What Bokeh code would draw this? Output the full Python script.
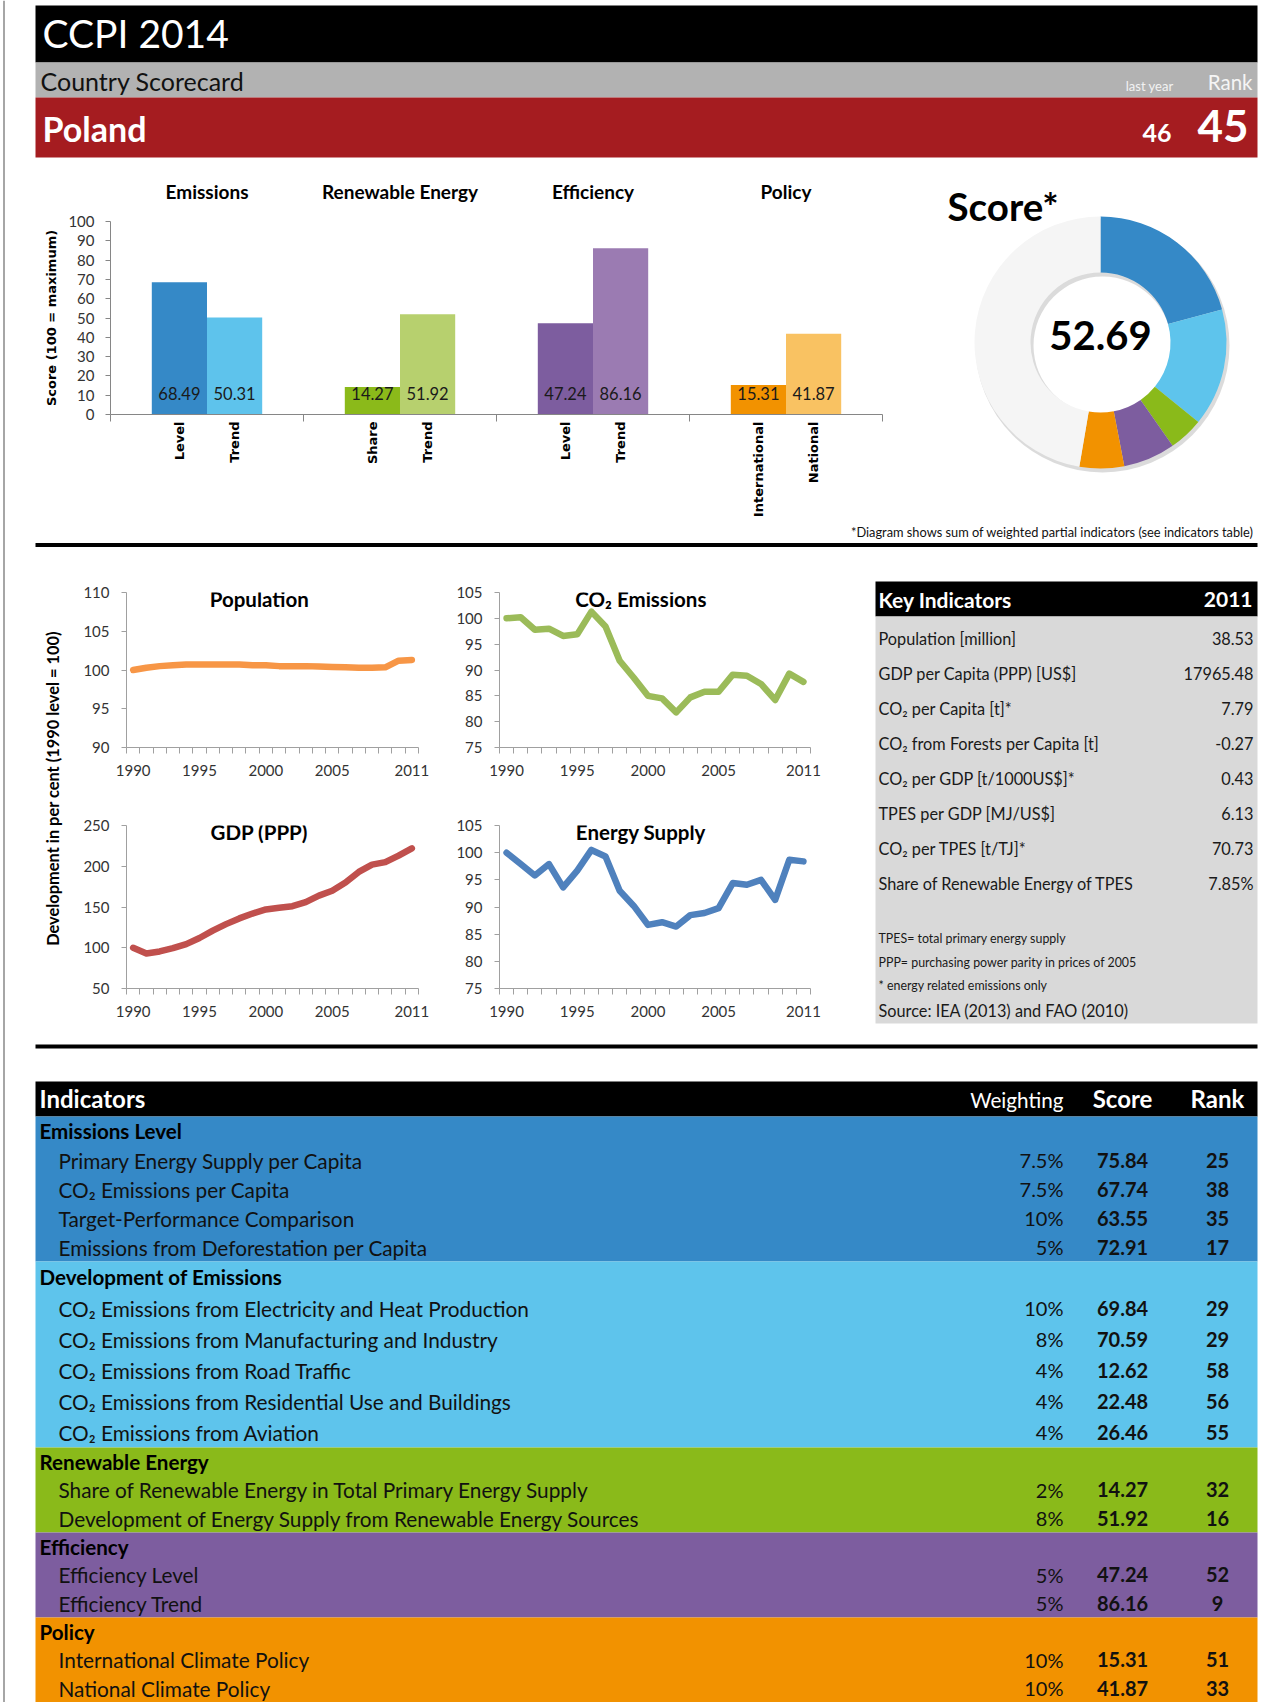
import math
from bokeh.plotting import figure
from bokeh.models import Range1d, FixedTicker, LinearAxis
from bokeh.layouts import row, column
from bokeh.core.properties import value
from bokeh.embed import file_html
from bokeh.resources import INLINE

# ---------------- data ----------------
report_title = "CCPI 2014"
subtitle = "Country Scorecard"
country = "Poland"
rank_last_year = 46
rank_now = 45

group_names = ["Emissions", "Renewable Energy", "Efficiency", "Policy"]
bar_labels = ["Level", "Trend", "Share", "Trend", "Level", "Trend", "International", "National"]
bar_values = [68.49, 50.31, 14.27, 51.92, 47.24, 86.16, 15.31, 41.87]
bar_group = [0, 0, 1, 1, 2, 2, 3, 3]
bar_member = [0, 1, 0, 1, 0, 1, 0, 1]

years = list(range(1990, 2012))
year_tick_labels = [1990, 1995, 2000, 2005, 2011]
population = [100.0, 100.3, 100.5, 100.6, 100.7, 100.7, 100.7, 100.7, 100.7, 100.6, 100.6,
              100.5, 100.5, 100.5, 100.45, 100.4, 100.35, 100.3, 100.3, 100.35, 101.2, 101.3]
gdp = [100, 93, 95.5, 99.5, 104.5, 112, 121, 129, 136, 142, 147,
       149, 151, 156, 164, 170, 180, 193, 202, 205, 213, 222]
co2 = [100.0, 100.2, 97.8, 98.0, 96.6, 96.9, 101.3, 98.4, 91.8, 88.5, 85.0,
       84.5, 81.8, 84.7, 85.8, 85.8, 89.1, 88.9, 87.3, 84.2, 89.3, 87.7]
energy = [100.0, 97.9, 95.8, 97.9, 93.6, 96.7, 100.5, 99.3, 93.0, 90.2, 86.7,
          87.2, 86.4, 88.5, 88.9, 89.8, 94.4, 94.1, 95.0, 91.3, 98.7, 98.4]

ki_year = "2011"
ki_labels = ["Population [million]", "GDP per Capita (PPP) [US$]", "CO\u2082 per Capita [t]*",
             "CO\u2082 from Forests per Capita [t]", "CO\u2082 per GDP [t/1000US$]*",
             "TPES per GDP [MJ/US$]", "CO\u2082 per TPES [t/TJ]*", "Share of Renewable Energy of TPES"]
ki_values = ["38.53", "17965.48", "7.79", "-0.27", "0.43", "6.13", "70.73", "7.85%"]
ki_notes = ["TPES= total primary energy supply", "PPP= purchasing power parity in prices of 2005",
            "* energy related emissions only"]
ki_source = "Source: IEA (2013) and FAO (2010)"

ind_group_names = ["Emissions Level", "Development of Emissions", "Renewable Energy", "Efficiency", "Policy"]
ind_names = ["Primary Energy Supply per Capita", "CO\u2082 Emissions per Capita",
             "Target-Performance Comparison", "Emissions from Deforestation per Capita",
             "CO\u2082 Emissions from Electricity and Heat Production",
             "CO\u2082 Emissions from Manufacturing and Industry", "CO\u2082 Emissions from Road Traffic",
             "CO\u2082 Emissions from Residential Use and Buildings", "CO\u2082 Emissions from Aviation",
             "Share of Renewable Energy in Total Primary Energy Supply",
             "Development of Energy Supply from Renewable Energy Sources",
             "Efficiency Level", "Efficiency Trend",
             "International Climate Policy", "National Climate Policy"]
ind_group = [0, 0, 0, 0, 1, 1, 1, 1, 1, 2, 2, 3, 3, 4, 4]
ind_weight = [7.5, 7.5, 10, 5, 10, 8, 4, 4, 4, 2, 8, 5, 5, 10, 10]
ind_score = [75.84, 67.74, 63.55, 72.91, 69.84, 70.59, 12.62, 22.48, 26.46, 14.27, 51.92, 47.24, 86.16, 15.31, 41.87]
ind_rank = [25, 38, 35, 17, 29, 29, 58, 56, 55, 32, 16, 52, 9, 51, 33]

# ---------------- style ----------------
FONT = "Lato"
bar_colors = ["#3589C7", "#5EC3EC", "#8BBA1A", "#B7D06E", "#7D5D9F", "#9B7BB2", "#F29200", "#F9C262"]
band_colors = ["#3589C7", "#5EC4EC", "#8ABA1A", "#7D5D9F", "#F29200"]
AXIS_GREY = "#A0A0A0"


def txt(p, x, y, s, size, color="black", bold=False, align="left", baseline="middle", font=FONT, angle=0.0):
    xs = x if isinstance(x, list) else [x]
    ys = y if isinstance(y, list) else [y]
    ss = s if isinstance(s, list) else [s]
    p.text(x=xs, y=ys, text=ss, text_font=value(font), text_font_size=f"{size}px",
           text_font_style="bold" if bold else "normal", text_color=color,
           text_align=align, text_baseline=baseline, angle=angle)


def deco(x0, x1, y0, y1):
    """Figure whose data space equals page pixels (y negated)."""
    p = figure(width=x1 - x0, height=y1 - y0, x_range=Range1d(x0, x1), y_range=Range1d(-y1, -y0),
               output_backend="svg", toolbar_location=None, min_border=0, frame_align=False,
               x_axis_location=None, y_axis_location=None)
    p.grid.visible = False
    p.outline_line_color = None
    p.background_fill_color = "white"
    p.border_fill_color = "white"
    return p


def band(p, x0, x1, y0, y1, color):
    p.quad(left=[x0], right=[x1], top=[-y0], bottom=[-y1], fill_color=color, line_color=None)


# ---------------- gutter ----------------
gutter = deco(0, 28, 0, 1702)
gutter.segment(x0=[3.5], y0=[0], x1=[3.5], y1=[-1702], line_color="#A6A6A6", line_width=2)

# ---------------- header ----------------
hdr = deco(28, 1273, 0, 160)
band(hdr, 35, 1257, 5, 62, "black")
band(hdr, 35, 1257, 62, 97, "#B2B2B2")
band(hdr, 35, 1257, 97, 157, "#A51C20")
txt(hdr, 42, -32.5, report_title, 39, "white")
txt(hdr, 40, -80, subtitle, 25, "#111111")
txt(hdr, 1173, -85, "last year", 13, "#F2F2F2", align="right")
txt(hdr, 1252, -81, "Rank", 20.5, "#F5F5F5", align="right")
txt(hdr, 42, -127.5, country, 34, "white", bold=True)
txt(hdr, 1171, -132, str(rank_last_year), 25, "white", bold=True, align="right")
txt(hdr, 1248, -125.5, str(rank_now), 44, "white", bold=True, align="right")

# ---------------- bar chart ----------------
bw = 0.286
bar_x = [round(g + 0.5 + (m - 0.5) * bw, 3) for g, m in zip(bar_group, bar_member)]
bp = figure(width=867, height=364, x_range=Range1d(0, 4), y_range=Range1d(0, 100),
            output_backend="svg", toolbar_location=None, frame_align=False,
            min_border_left=82, min_border_right=13, min_border_top=61, min_border_bottom=110)
bp.grid.visible = False
bp.outline_line_color = None
bp.vbar(x=bar_x, top=bar_values, width=bw, fill_color=bar_colors, line_color=None)
txt(bp, bar_x, [11] * len(bar_values), [f"{v:.2f}" for v in bar_values], 16.5, "#1A1A1A", align="center")

ya = bp.yaxis[0]
ya.ticker = FixedTicker(ticks=list(range(0, 101, 10)))
ya.axis_line_color = "#868686"
ya.major_tick_line_color = "#868686"
ya.major_tick_out = 5
ya.major_tick_in = 0
ya.minor_tick_line_color = None
ya.major_label_standoff = 11
ya.major_label_text_font = FONT
ya.major_label_text_font_size = "15px"
ya.major_label_text_color = "#333333"
ya.axis_label = "Score (100 = maximum)"
ya.axis_label_text_font = "DejaVu Sans"
ya.axis_label_text_font_style = "bold"
ya.axis_label_text_font_size = "13px"
ya.axis_label_text_color = "black"
ya.axis_label_standoff = 6

xa = bp.xaxis[0]
xa.ticker = FixedTicker(ticks=bar_x, minor_ticks=[0, 1, 2, 3, 4])
xa.major_label_overrides = {x: lab for x, lab in zip(bar_x, bar_labels)}
xa.major_label_orientation = math.pi / 2
xa.axis_line_color = "#868686"
xa.major_tick_line_color = None
xa.major_tick_out = 0
xa.major_tick_in = 0
xa.minor_tick_line_color = "#868686"
xa.minor_tick_out = 7
xa.minor_tick_in = 0
xa.major_label_standoff = 0
xa.major_label_text_font = "DejaVu Sans"
xa.major_label_text_font_style = "bold"
xa.major_label_text_font_size = "13px"
xa.major_label_text_color = "black"

top_axis = LinearAxis(ticker=FixedTicker(ticks=[g + 0.5 for g in range(len(group_names))]),
                      major_label_overrides={g + 0.5: n for g, n in enumerate(group_names)},
                      axis_line_color=None, major_tick_line_color=None, minor_tick_line_color=None,
                      major_tick_out=0, major_tick_in=0, major_label_standoff=19,
                      major_label_text_font=FONT, major_label_text_font_style="bold",
                      major_label_text_font_size="19px", major_label_text_color="black")
bp.add_layout(top_axis, "above")

# ---------------- donut ----------------
grp_scores = [sum(w * s / 100 for w, s, gi in zip(ind_weight, ind_score, ind_group) if gi == g)
              for g in range(len(ind_group_names))]
total_score = sum(grp_scores)
dp = deco(895, 1273, 160, 524)
cx, cy = 1100, -342
dp.annulus(x=[cx + 2], y=[cy - 3], inner_radius=69, outer_radius=127, fill_color="#BDBDBD",
           fill_alpha=0.55, line_color=None)
slices = grp_scores + [100 - total_score]
slice_colors = band_colors + ["#F5F5F5"]
starts, ends, cum = [], [], 0.0
for v in slices:
    starts.append(math.pi / 2 - 2 * math.pi * cum / 100)
    cum += v
    ends.append(math.pi / 2 - 2 * math.pi * cum / 100)
dp.annular_wedge(x=[cx] * len(slices), y=[cy] * len(slices), inner_radius=70, outer_radius=126,
                 start_angle=starts, end_angle=ends, direction="clock",
                 fill_color=slice_colors, line_color=None)
txt(dp, 947, -205, "Score*", 38.5, "black", bold=True)
txt(dp, cx, -335, f"{total_score:.2f}", 40, "black", bold=True, align="center")

# ---------------- separator A ----------------
sa = deco(28, 1273, 524, 556)
txt(sa, 1253, -531, "*Diagram shows sum of weighted partial indicators (see indicators table)", 12.8,
    "#111111", align="right")
band(sa, 35, 1257, 542.5, 546.5, "black")

# ---------------- development charts ----------------
ytitle = deco(28, 70, 556, 1040)
txt(ytitle, 52, -788, "Development in per cent (1990 level = 100)", 16.4, "black", bold=True,
    align="center", angle=math.pi / 2)


def line_chart(w, h, borders, yr, ystep, vals, color, title):
    l, r, t, b = borders
    p = figure(width=w, height=h, x_range=Range1d(years[0] - 0.5, years[-1] + 0.5), y_range=Range1d(*yr),
               output_backend="svg", toolbar_location=None, frame_align=False,
               min_border_left=l, min_border_right=r, min_border_top=t, min_border_bottom=b)
    p.grid.visible = False
    p.outline_line_color = None
    p.line(years, vals, line_color=color, line_width=6.5, line_cap="round", line_join="round")
    xa = p.xaxis[0]
    xa.ticker = FixedTicker(ticks=year_tick_labels, minor_ticks=[y - 0.5 for y in years] + [years[-1] + 0.5])
    xa.axis_line_color = AXIS_GREY
    xa.major_tick_line_color = None
    xa.major_tick_out = 6
    xa.major_tick_in = 0
    xa.minor_tick_line_color = AXIS_GREY
    xa.minor_tick_out = 6
    xa.minor_tick_in = 0
    xa.major_label_standoff = 11
    xa.major_label_text_font = FONT
    xa.major_label_text_font_size = "15px"
    xa.major_label_text_color = "#333333"
    ya = p.yaxis[0]
    ya.ticker = FixedTicker(ticks=list(range(int(yr[0]), int(yr[1]) + 1, ystep)))
    ya.axis_line_color = AXIS_GREY
    ya.major_tick_line_color = AXIS_GREY
    ya.major_tick_out = 5
    ya.major_tick_in = 0
    ya.minor_tick_line_color = None
    ya.major_label_standoff = 12
    ya.major_label_text_font = FONT
    ya.major_label_text_font_size = "15px"
    ya.major_label_text_color = "#333333"
    p.text(x=[1999.5], y=[yr[1]], text=[title], text_font=value(FONT), text_font_size="20.5px",
           text_font_style="bold", text_color="black", text_align="center", text_baseline="middle",
           y_offset=6)
    return p


pop_p = line_chart(380, 244, (56, 32, 36, 53), (90, 110), 5, population, "#F79646", "Population")
gdp_p = line_chart(380, 240, (56, 32, 25, 52), (50, 250), 50, gdp, "#C0504D", "GDP (PPP)")
co2_p = line_chart(410, 244, (49, 50, 36, 53), (75, 105), 5, co2, "#9BBB59", "CO\u2082 Emissions")
en_p = line_chart(410, 240, (49, 50, 25, 52), (75, 105), 5, energy, "#4F81BD", "Energy Supply")

# ---------------- key indicators ----------------
kp = deco(860, 1273, 556, 1040)
band(kp, 875, 1257, 581, 616, "black")
band(kp, 875, 1257, 616, 1023, "#D9D9D9")
txt(kp, 878, -599, "Key Indicators", 21, "white", bold=True)
txt(kp, 1252, -599, ki_year, 21, "white", bold=True, align="right")
ki_y = [-(638 + 35 * i) for i in range(len(ki_labels))]
txt(kp, [878] * len(ki_labels), ki_y, ki_labels, 16.3, "#1A1A1A")
txt(kp, [1253] * len(ki_values), ki_y, ki_values, 16.3, "#1A1A1A", align="right")
txt(kp, [878] * len(ki_notes), [-(938 + 23.5 * i) for i in range(len(ki_notes))], ki_notes, 12.4, "#1A1A1A")
txt(kp, 878, -1010, ki_source, 16.3, "#1A1A1A")

# ---------------- separator B ----------------
sb = deco(28, 1273, 1040, 1060)
band(sb, 35, 1257, 1044, 1048, "black")

# ---------------- indicators table ----------------
tp = deco(28, 1273, 1060, 1702)
band(tp, 35, 1257, 1081, 1116, "black")
txt(tp, 39, -1098, "Indicators", 24, "white", bold=True)
txt(tp, 1063, -1099, "Weighting", 20.7, "white", align="right")
txt(tp, 1122, -1098, "Score", 24, "white", bold=True, align="center")
txt(tp, 1217, -1098, "Rank", 24, "white", bold=True, align="center")
row_h = [29, 31, 28.33, 28.33, 28.33]
ytop = 1116
gy, iy = [], []
for g, gname in enumerate(ind_group_names):
    members = [i for i in range(len(ind_names)) if ind_group[i] == g]
    h = row_h[g]
    ybot = ytop + h * (1 + len(members))
    band(tp, 35, 1257, ytop, ybot, band_colors[g])
    gy.append(-(ytop + h / 2))
    for k, i in enumerate(members):
        iy.append(-(ytop + h * (k + 1.5)))
    ytop = ybot
txt(tp, [39] * len(gy), gy, ind_group_names, 20.6, "black", bold=True)
txt(tp, [58] * len(iy), iy, ind_names, 20.8, "#111111")
txt(tp, [1063] * len(iy), iy, [f"{w:g}%" for w in ind_weight], 20, "#111111", align="right")
txt(tp, [1122] * len(iy), iy, [f"{s:.2f}" for s in ind_score], 20, "#111111", bold=True, align="center")
txt(tp, [1217] * len(iy), iy, [str(r) for r in ind_rank], 20, "#111111", bold=True, align="center")

# ---------------- layout ----------------
main = column(
    hdr,
    row(bp, dp),
    sa,
    row(ytitle, column(pop_p, gdp_p), column(co2_p, en_p), kp),
    sb,
    tp,
)
layout = row(gutter, main)

open("out.html", "w").write(file_html(layout, INLINE))
